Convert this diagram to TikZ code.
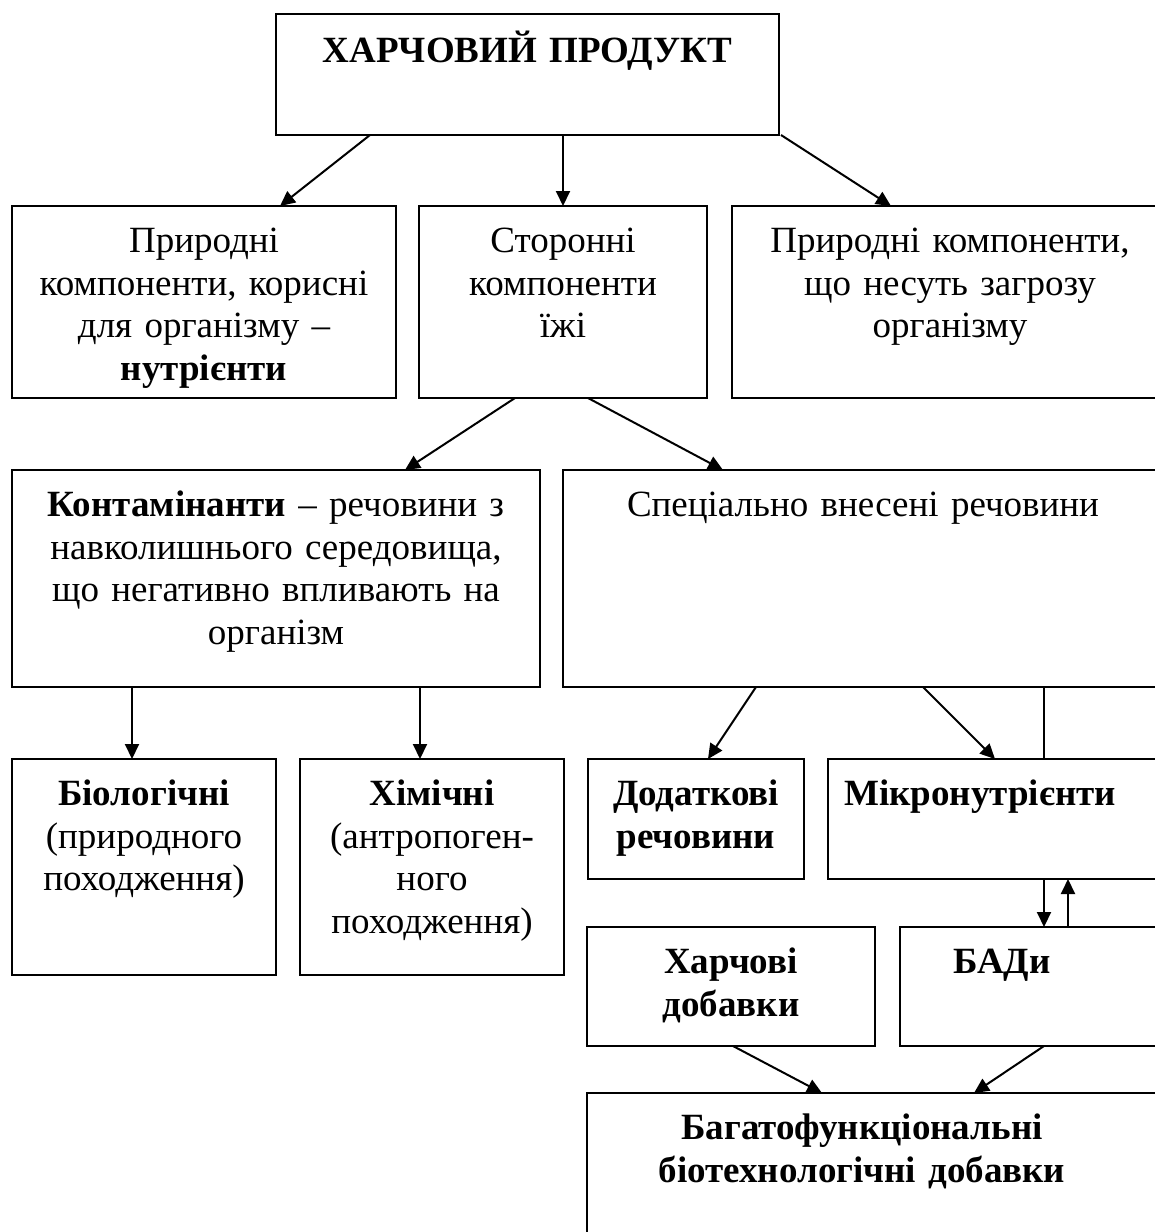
\documentclass[tikz,border=0pt]{standalone}
\usepackage{fontspec}
\setmainfont{Liberation Serif}
\usetikzlibrary{arrows.meta}
\begin{document}
\begin{tikzpicture}[x=1pt, y=-1pt,
          box/.style = {draw, line width=2pt, anchor=north west, inner sep=0pt, outer sep=0pt},
          txt/.style = {anchor=north, inner sep=0pt, align=center, text width=600pt,
                        font=\fontsize{37}{42.5}\selectfont, execute at begin node=\strut},
          arr/.style = {line width=2pt, -{Triangle[length=15pt, width=14pt]}}]
\useasboundingbox (0,0) rectangle (1155,1232);
% boxes
\node[box, minimum width=503pt, minimum height=121pt] (prod) at (276,14) {};
\node[box, minimum width=384pt, minimum height=192pt] (nutr) at (12,206) {};
\node[box, minimum width=288pt, minimum height=192pt] (fore) at (419,206) {};
\node[box, minimum width=450pt, minimum height=192pt] (dang) at (732,206) {};
\node[box, minimum width=528pt, minimum height=217pt] (cont) at (12,470) {};
\node[box, minimum width=620pt, minimum height=217pt] (spec) at (563,470) {};
\node[box, minimum width=264pt, minimum height=216pt] (bio) at (12,759) {};
\node[box, minimum width=264pt, minimum height=216pt] (chem) at (300,759) {};
\node[box, minimum width=216pt, minimum height=120pt] (addt) at (588,759) {};
\node[box, minimum width=360pt, minimum height=120pt] (micr) at (828,759) {};
\node[box, minimum width=288pt, minimum height=119pt] (food) at (587,927) {};
\node[box, minimum width=290pt, minimum height=119pt] (bad) at (900,927) {};
\node[box, minimum width=600pt, minimum height=170pt] (multi) at (587,1093) {};
% texts
\node[txt] (prod-t) at ([yshift=-17pt]prod.north) {\textbf{ХАРЧОВИЙ ПРОДУКТ}};
\node[txt] (nutr-t) at ([yshift=-17pt]nutr.north) {Природні\\компоненти, корисні\\для організму –\\\textbf{нутрієнти}};
\node[txt] (fore-t) at ([yshift=-17pt]fore.north) {Сторонні\\компоненти\\їжі};
\node[txt] (dang-t) at ([xshift=218pt, yshift=-17pt]dang.north west) {Природні компоненти,\\що несуть загрозу\\організму};
\node[txt] (cont-t) at ([yshift=-17pt]cont.north) {\textbf{Контамінанти} – речовини з\\навколишнього середовища,\\що негативно впливають на\\організм};
\node[txt] (spec-t) at ([xshift=300pt, yshift=-17pt]spec.north west) {Спеціально внесені речовини};
\node[txt] (bio-t) at ([yshift=-17pt]bio.north) {\textbf{Біологічні}\\(природного\\походження)};
\node[txt] (chem-t) at ([yshift=-17pt]chem.north) {\textbf{Хімічні}\\(антропоген-\\ного\\походження)};
\node[txt] (addt-t) at ([yshift=-17pt]addt.north) {\textbf{Додаткові}\\\textbf{речовини}};
\node[txt] (micr-t) at ([xshift=152pt, yshift=-17pt]micr.north west) {\textbf{Мікронутрієнти}};
\node[txt] (food-t) at ([yshift=-17pt]food.north) {\textbf{Харчові}\\\textbf{добавки}};
\node[txt] (bad-t) at ([xshift=102pt, yshift=-17pt]bad.north west) {\textbf{БАДи}};
\node[txt] (multi-t) at ([xshift=275pt, yshift=-17pt]multi.north west) {\textbf{Багатофункціональні}\\\textbf{біотехнологічні добавки}};
% connectors
\draw[arr] ([xshift=94pt]prod.south west) -- ([xshift=268pt]nutr.north west);
\draw[arr] ([xshift=287pt]prod.south west) -- ([xshift=144pt]fore.north west);
\draw[arr] ([xshift=505pt]prod.south west) -- ([xshift=159pt]dang.north west);
\draw[arr] ([xshift=96pt]fore.south west) -- ([xshift=393pt]cont.north west);
\draw[arr] ([xshift=169pt]fore.south west) -- ([xshift=160pt]spec.north west);
\draw[arr] ([xshift=120pt]cont.south west) -- ([xshift=120pt]bio.north west);
\draw[arr] ([xshift=408pt]cont.south west) -- ([xshift=120pt]chem.north west);
\draw[arr] ([xshift=193pt]spec.south west) -- ([xshift=120pt]addt.north west);
\draw[arr] ([xshift=360pt]spec.south west) -- ([xshift=167pt]micr.north west);
\draw[line width=2pt] ([xshift=481pt]spec.south west) -- ([xshift=216pt]micr.north west);
\draw[arr] ([xshift=216pt]micr.south west) -- ([xshift=144pt]bad.north west);
\draw[arr] ([xshift=168pt]bad.north west) -- ([xshift=240pt]micr.south west);
\draw[arr] ([xshift=146pt]food.south west) -- ([xshift=235pt]multi.north west);
\draw[arr] ([xshift=144pt]bad.south west) -- ([xshift=387pt]multi.north west);
\end{tikzpicture}
\end{document}
